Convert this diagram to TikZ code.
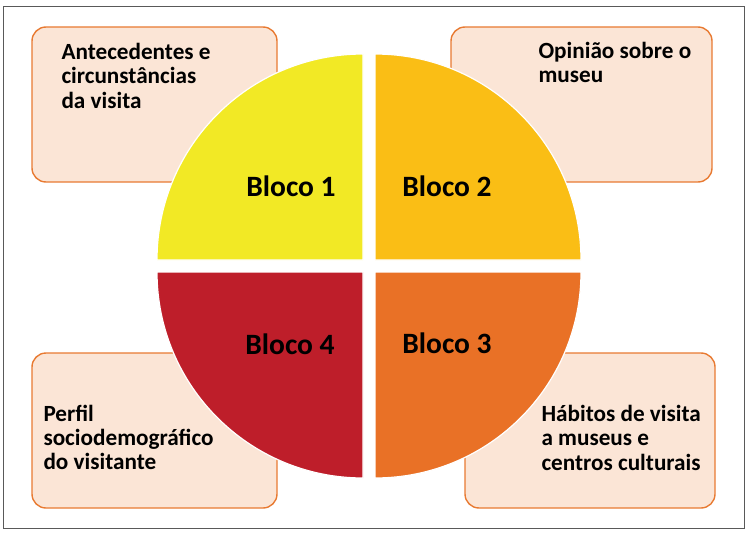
\documentclass[tikz,border=0pt]{standalone}
\usepackage{fontspec}
\setmainfont{Carlito}
\usetikzlibrary{positioning}

\definecolor{blocyellow}{RGB}{242,233,37}
\definecolor{blocgold}{RGB}{250,190,21}
\definecolor{blocorange}{RGB}{233,113,38}
\definecolor{blocred}{RGB}{190,30,42}
\definecolor{boxfill}{RGB}{251,229,214}
\definecolor{boxline}{RGB}{232,122,50}

\tikzset{
  infobox/.style = {draw = boxline, fill = boxfill, line width = 1.4pt,
    rounded corners = 14pt, inner sep = 0pt},
  infotext/.style = {anchor = north west, align = left, inner sep = 0pt,
    font = \bfseries\fontsize{23.2}{24.2}\selectfont},
  bloclabel/.style = {anchor = base, inner sep = 0pt,
    font = \bfseries\fontsize{29.5}{32}\selectfont}
}

\begin{document}
\begin{tikzpicture}[x = 1pt, y = -1pt]
\useasboundingbox (0,0) rectangle (750,535);
\draw[line width = 0.8pt, black!65] (3.5,6.5) rectangle (744.5,528);

% caixas de texto
\node[infobox, minimum width = 245pt, minimum height = 155pt] (box1) at (154.5,104.5) {};
\node[infobox, minimum width = 261pt, minimum height = 155pt] (box2) at (581.5,104.5) {};
\node[infobox, minimum width = 250pt, minimum height = 155pt] (box3) at (590,430.5) {};
\node[infobox, minimum width = 245pt, minimum height = 155pt] (box4) at (154.5,430.5) {};

\node[infotext] (txt1) at ([shift = {(30,17)}]box1.north west) {Antecedentes e\\circunstâncias\\da visita};
\node[infotext] (txt2) at ([shift = {(88,16)}]box2.north west) {Opinião sobre o\\museu};
\node[infotext] (txt3) at ([shift = {(77,53)}]box3.north west) {Hábitos de visita\\a museus e\\centros culturais};
\node[infotext] (txt4) at ([shift = {(12,52.5)}]box4.north west) {Perfil\\sociodemográfico\\do visitante};

% os quatro blocos
\coordinate (centre) at (369,266);
\foreach \col/\ang/\dx/\dy in {blocyellow/90/-6/-6, blocgold/0/6/-6, blocorange/270/6/6, blocred/180/-6/6}{
   \fill[\col, draw = white, line width = 1.2pt]
      ([shift = {(\dx,\dy)}]centre) -- ++(\ang:206pt)
      arc[start angle = \ang, delta angle = 90, radius = 206pt] -- cycle;
   }

\node[bloclabel] (bloc1) at (291,196) {Bloco 1};
\node[bloclabel] (bloc2) at (447,196) {Bloco 2};
\node[bloclabel] (bloc3) at (447,353) {Bloco 3};
\node[bloclabel] (bloc4) at (290,354) {Bloco 4};
\end{tikzpicture}
\end{document}
